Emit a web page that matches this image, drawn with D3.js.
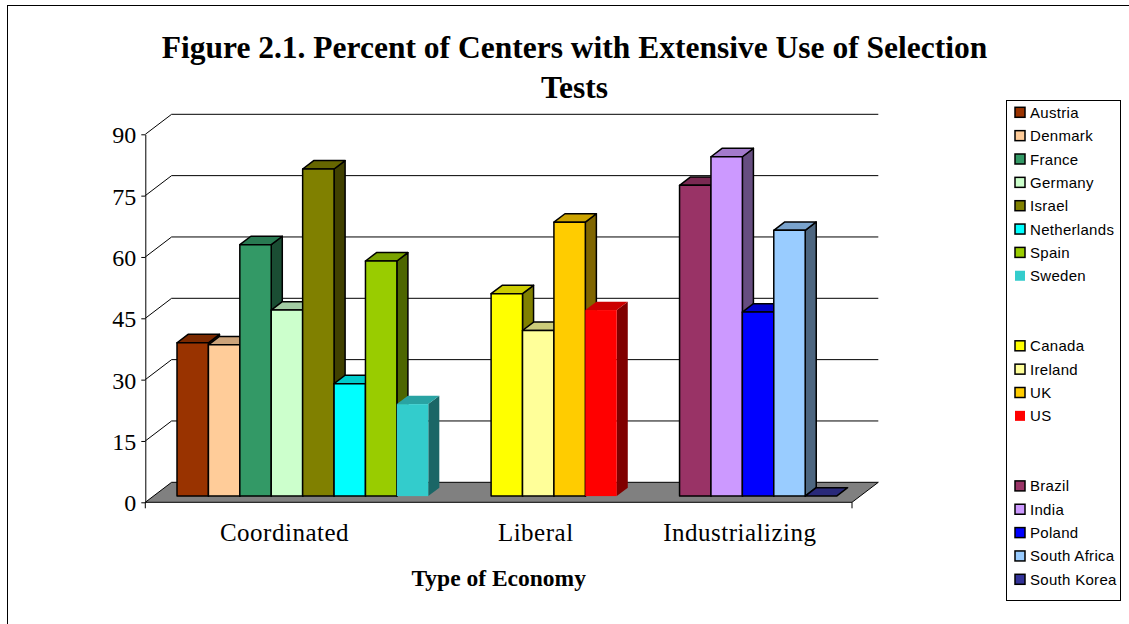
<!DOCTYPE html>
<html>
<head>
<meta charset="utf-8">
<script src="https://cdn.jsdelivr.net/npm/d3@7"></script>
<style>
  body { margin: 0; background: #fff; }
  svg { display: block; }
</style>
</head>
<body>
<svg id="chart" width="1129" height="624"></svg>
<script>
// data
var categories = ["Coordinated", "Liberal", "Industrializing"];
var countries = ["Austria", "Denmark", "France", "Germany", "Israel", "Netherlands", "Spain", "Sweden",
                 "Canada", "Ireland", "UK", "US",
                 "Brazil", "India", "Poland", "South Africa", "South Korea"];
var values = [37.5, 37, 61.5, 45.5, 80, 27.5, 57.5, 22.5,
              49.5, 40.5, 67, 45.5,
              76, 83, 45, 65, 0];
var economy = [0, 0, 0, 0, 0, 0, 0, 0,
               1, 1, 1, 1,
               2, 2, 2, 2, 2];
var yTicks = [0, 15, 30, 45, 60, 75, 90];

var colors = ["#993300", "#FFCC99", "#339966", "#CCFFCC", "#808000", "#00FFFF", "#99CC00", "#33CCCC",
              "#FFFF00", "#FFFF99", "#FFCC00", "#FF0000",
              "#993366", "#CC99FF", "#0000FF", "#99CCFF", "#333399"];
var noOutline = ["Sweden", "US"];

var svg = d3.select("#chart");

// 3d box: depth vector of the floor, and where bars sit inside it
var depthX = 26.3, depthY = 20;
var d0 = 0.31, d1 = 0.73;

// two empty slots between economy groups (same as the legend rows)
var nSlots = countries.length + 2 * (categories.length - 1);
function slotOf(i) { return i + 2 * economy[i]; }

var x = d3.scaleBand()
    .domain(d3.range(nSlots))
    .range([145.3, 852])
    .paddingInner(0)
    .paddingOuter(0.75);

var y = d3.scaleLinear()
    .domain([0, 90])
    .range([502.3, 134.3]);

function shade(c, k) {
  var r = d3.rgb(c);
  return d3.rgb(r.r * k, r.g * k, r.b * k).formatHex();
}
function pts(a) { return a.map(function(p){ return p[0] + "," + p[1]; }).join(" "); }

// outer chart frame (right and bottom fall outside the picture)
svg.append("rect")
  .attr("x", 7.5).attr("y", 5.5)
  .attr("width", 1200).attr("height", 700)
  .attr("fill", "none").attr("stroke", "#000");

// title
var title = svg.append("text")
  .attr("text-anchor", "middle")
  .style("font-family", "'Liberation Serif', 'Times New Roman', serif")
  .style("font-weight", "bold")
  .style("font-size", "31.5px");
title.append("tspan").attr("x", 574.5).attr("y", 57.5)
  .text("Figure 2.1. Percent of Centers with Extensive Use of Selection");
title.append("tspan").attr("x", 574.5).attr("y", 98)
  .text("Tests");

// floor
var fx0 = x.range()[0], fx1 = x.range()[1], fy = y(0);
svg.append("polygon")
  .attr("points", pts([[fx0, fy], [fx1, fy], [fx1 + depthX, fy - depthY], [fx0 + depthX, fy - depthY]]))
  .attr("fill", "#808080")
  .attr("stroke", "#000")
  .attr("stroke-width", 1);

// gridlines: side wall diagonal + back wall
svg.append("g").selectAll("path")
  .data(yTicks.filter(function(t){ return t > 0; }))
  .enter().append("path")
  .attr("d", function(t) {
    var yy = y(t);
    return "M" + fx0 + "," + yy + "L" + (fx0 + depthX) + "," + (yy - depthY) + "L" + (fx1 + depthX) + "," + (yy - depthY);
  })
  .attr("fill", "none")
  .attr("stroke", "#000")
  .attr("stroke-width", 1);

// y axis
var yAxis = svg.append("g")
  .attr("transform", "translate(" + fx0 + ",0)")
  .call(d3.axisLeft(y).tickValues(yTicks).tickSize(4).tickSizeOuter(0).tickPadding(5));
yAxis.select(".domain").attr("stroke", "#000");
yAxis.selectAll(".tick line").attr("stroke", "#000");
yAxis.selectAll("text")
  .attr("fill", "#000")
  .attr("dy", "0.36em")
  .style("font-family", "'Liberation Serif', 'Times New Roman', serif")
  .style("font-size", "24px");

// little end ticks under the floor
svg.append("g").selectAll("line")
  .data([fx0, fx1])
  .enter().append("line")
  .attr("x1", function(d){ return d; }).attr("x2", function(d){ return d; })
  .attr("y1", fy).attr("y2", fy + 6)
  .attr("stroke", "#000");

// bars
var w = x.bandwidth();
var bdx = (d1 - d0) * depthX, bdy = (d1 - d0) * depthY;
var bars = svg.append("g").selectAll("g")
  .data(countries.map(function(c, i){ return {name: c, value: values[i], color: colors[i], slot: slotOf(i)}; }))
  .enter().append("g")
  .attr("stroke", function(d){ return noOutline.indexOf(d.name) >= 0 ? "none" : "#000"; })
  .attr("stroke-width", 1.5)
  .attr("stroke-linejoin", "round");

bars.each(function(d) {
  var g = d3.select(this);
  var xl = x(d.slot) + d0 * depthX;
  var yt = y(d.value) - d0 * depthY;
  var yb = y(0) - d0 * depthY;
  if (d.value > 0) {
    g.append("polygon")
      .attr("points", pts([[xl + w, yt], [xl + w + bdx, yt - bdy], [xl + w + bdx, yb - bdy], [xl + w, yb]]))
      .attr("fill", shade(d.color, 0.5));
  }
  g.append("polygon")
    .attr("points", pts([[xl, yt], [xl + w, yt], [xl + w + bdx, yt - bdy], [xl + bdx, yt - bdy]]))
    .attr("fill", shade(d.color, 0.8));
  if (d.value > 0) {
    g.append("rect")
      .attr("x", xl).attr("y", yt)
      .attr("width", w).attr("height", yb - yt)
      .attr("fill", d.color);
  }
});

// category labels, roughly under each group
svg.append("g").selectAll("text")
  .data(categories)
  .enter().append("text")
  .attr("x", function(c, k) {
    var slots = countries.map(function(n, i){ return i; })
      .filter(function(i){ return economy[i] === k; })
      .map(slotOf);
    var a = x(d3.min(slots)), b = x(d3.max(slots)) + w;
    return (a + b) / 2 - 10;
  })
  .attr("y", 541)
  .attr("text-anchor", "middle")
  .style("font-family", "'Liberation Serif', 'Times New Roman', serif")
  .style("font-size", "25px")
  .style("letter-spacing", "0.5px")
  .text(function(c){ return c; });

// axis title
svg.append("text")
  .attr("x", 498.7).attr("y", 586)
  .attr("text-anchor", "middle")
  .style("font-family", "'Liberation Serif', 'Times New Roman', serif")
  .style("font-weight", "bold")
  .style("font-size", "23.5px")
  .text("Type of Economy");

// legend, one row per slot so the groups keep their gaps
var legendY = d3.scaleLinear().domain([0, nSlots - 1]).range([112.3, 579.3]);
svg.append("rect")
  .attr("x", 1006.5).attr("y", 100.5)
  .attr("width", 114).attr("height", 500)
  .attr("fill", "#fff").attr("stroke", "#000");

var items = svg.append("g").selectAll("g")
  .data(countries.map(function(c, i){ return {name: c, color: colors[i], slot: slotOf(i)}; }))
  .enter().append("g")
  .attr("transform", function(d){ return "translate(1015," + legendY(d.slot) + ")"; });

items.append("rect")
  .attr("x", 0).attr("y", -5)
  .attr("width", 10).attr("height", 10)
  .attr("fill", function(d){ return d.color; })
  .attr("stroke", function(d){ return noOutline.indexOf(d.name) >= 0 ? "none" : "#000"; })
  .attr("stroke-width", 1.5);

items.append("text")
  .attr("x", 15).attr("y", 5.5)
  .style("font-family", "'Liberation Sans', Arial, sans-serif")
  .style("font-size", "15px")
  .style("letter-spacing", "0.3px")
  .text(function(d){ return d.name; });
</script>
</body>
</html>
